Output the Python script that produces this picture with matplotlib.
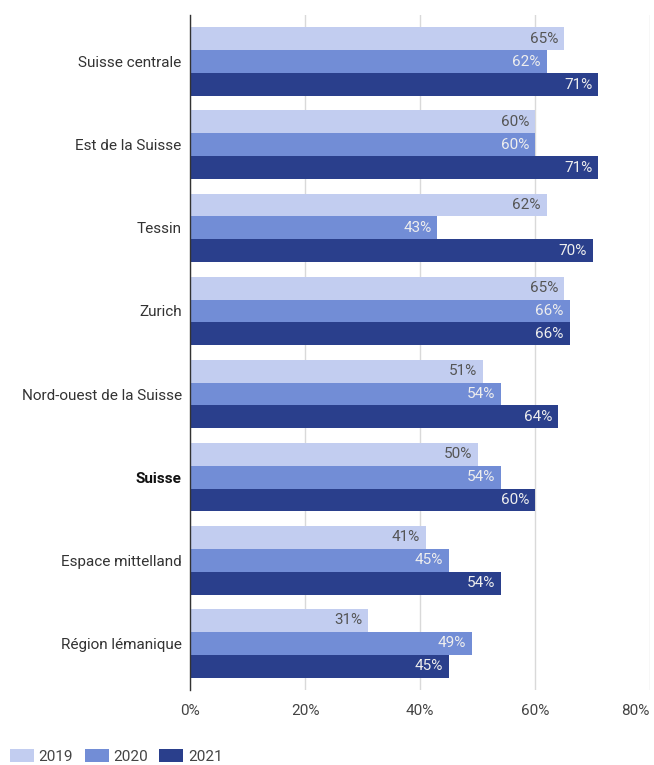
import matplotlib
matplotlib.use("Agg")
import matplotlib.pyplot as plt
import numpy as np

plt.rcParams['font.family'] = ['Roboto', 'DejaVu Sans']

categories = ["Suisse centrale", "Est de la Suisse", "Tessin", "Zurich",
              "Nord-ouest de la Suisse", "Suisse", "Espace mittelland", "Région lémanique"]
years = ["2019", "2020", "2021"]
v2019 = [65, 60, 62, 65, 51, 50, 41, 31]
v2020 = [62, 60, 43, 66, 54, 54, 45, 49]
v2021 = [71, 71, 70, 66, 64, 60, 54, 45]
xticks = [0, 20, 40, 60, 80]

series = [v2019, v2020, v2021]
colors = ["#c2cdf0", "#728dd6", "#2a3f8c"]
text_colors = ["#555555", "#eeeeee", "#eeeeee"]

fig = plt.figure(figsize=(6.54, 7.65), dpi=100)
ax = fig.add_axes([190/654, 1-690/765, (650-190)/654, (690-15)/765])

bh = 0.277
y = np.arange(len(categories))
for i, (vals, c, tc) in enumerate(zip(series, colors, text_colors)):
    pos = y + (i - 1) * bh
    ax.barh(pos, vals, height=bh, color=c, label=years[i], zorder=2)
    for p, v in zip(pos, vals):
        ax.text(v - 1.0, p, f"{v}%", ha="right", va="center", color=tc, fontsize=11, zorder=3)

ax.set_xlim(0, 80)
ax.set_ylim(len(categories) - 1 + 0.566, -0.566)
ax.set_xticks(xticks)
ax.set_xticklabels([f"{t}%" for t in xticks])
ax.set_yticks(y)
ax.set_yticklabels(categories)
for lbl in ax.get_yticklabels():
    if lbl.get_text() == "Suisse":
        lbl.set_fontweight("bold")
        lbl.set_color("#111111")
    else:
        lbl.set_color("#333333")
ax.tick_params(axis='y', length=0, pad=6, labelsize=11)
ax.tick_params(axis='x', length=0, pad=10, labelsize=11, labelcolor="#444444")
xl = ax.get_xticklabels()
xl[-1].set_horizontalalignment("right")
ax.grid(axis='x', color="#d9d9d9", linewidth=1, zorder=0)
for s in ["top", "right", "bottom"]:
    ax.spines[s].set_visible(False)
ax.spines["left"].set_color("#333333")
ax.spines["left"].set_linewidth(1)
ax.spines["left"].set_zorder(4)

handles, labels = ax.get_legend_handles_labels()
leg = fig.legend(handles, labels, loc="lower left", bbox_to_anchor=(10/654, 1/765), ncol=3,
                 frameon=False, fontsize=11, handlelength=1.57, handleheight=0.95,
                 handletextpad=0.3, columnspacing=0.75, borderaxespad=0, borderpad=0)
for t in leg.get_texts():
    t.set_color("#444444")

fig.savefig("out.png", dpi=100)
